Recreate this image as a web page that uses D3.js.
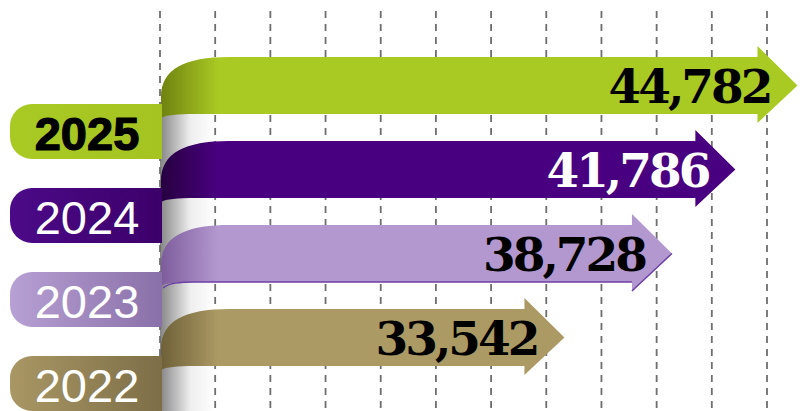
<!DOCTYPE html>
<html>
  <head>
    <meta charset="UTF-8" />
    <title>Ribbon arrows</title>
    <script src="https://cdn.jsdelivr.net/npm/d3@7/dist/d3.min.js"></script>
    <style>
      body { margin: 0; background: #fff; }
      svg { display: block; }
    </style>
  </head>
  <body>
    <div class="chart"></div>
    <script>
      // data
      const years = ["2025", "2024", "2023", "2022"];
      const values = [44782, 41786, 38728, 33542];
      const gridTicks = d3.range(12);

      // colours per row
      const barColors = ["#a9c923", "#490080", "#b398cf", "#ac9a64"];
      const shadeColors = ["#6f8210", "#26003f", "#7d5c9c", "#6e6038"];
      const tabLeft = ["#a9c923", "#4c0a88", "#b7a0d4", "#a99764"];
      const tabRight = ["#a5c422", "#3c006a", "#8a70a8", "#7d6e48"];
      const valueColors = ["#000", "#fff", "#000", "#000"];
      const yearColors = ["#000", "#fff", "#fff", "#fff"];

      let width = 802;
      let height = 411;

      let svg = d3
        .select(".chart")
        .append("svg")
        .attr("width", width)
        .attr("height", height);

      let x = d3.scaleLinear().domain([30000, 45000]).range([491, 802]);
      let y = d3.scaleBand().domain(years).range([57, 393]);
      let gx = d3.scaleLinear().domain([0, 11]).range([160, 767]);

      let barH = 57;
      let left = 161;

      let defs = svg.append("defs");

      function hGrad(id, x1, x2, stops) {
        let g = defs
          .append("linearGradient")
          .attr("id", id)
          .attr("gradientUnits", "userSpaceOnUse")
          .attr("x1", x1)
          .attr("x2", x2)
          .attr("y1", 0)
          .attr("y2", 0);
        stops.forEach((s) => {
          g.append("stop").attr("offset", s[0]).attr("stop-color", s[1]);
        });
      }

      hGrad("curl", 160, 215, [
        [0, "#858585"],
        [0.55, "#eeeeee"],
        [1, "#ffffff"],
      ]);
      years.forEach((yr, i) => {
        hGrad("bar" + i, 161, 218, [
          [0, shadeColors[i]],
          [1, barColors[i]],
        ]);
        hGrad("tab" + i, 10, 162, [
          [0, tabLeft[i]],
          [1, tabRight[i]],
        ]);
      });

      // back side of the ribbon (white curl)
      svg
        .append("g")
        .selectAll("rect")
        .data(years)
        .join("rect")
        .attr("x", 160)
        .attr("y", (d) => y(d) + barH - 3)
        .attr("width", 60)
        .attr("height", 80)
        .attr("fill", "url(#curl)");

      // dashed grid
      svg
        .append("g")
        .selectAll("line")
        .data(gridTicks)
        .join("line")
        .attr("x1", (d) => gx(d))
        .attr("x2", (d) => gx(d))
        .attr("y1", 11)
        .attr("y2", height)
        .attr("stroke", "#6e6e6e")
        .attr("stroke-width", 1.8)
        .attr("stroke-dasharray", "7,6");

      function barPath(top, tip) {
        let bot = top + barH;
        let mid = top + barH / 2;
        let head = tip - 40;
        return (
          `M${left},${bot + 4} L${left},${top + 40} ` +
          `C${left},${top + 12} ${left + 24},${top} ${left + 68},${top} ` +
          `L${head},${top} L${head},${top - 11} L${tip},${mid} ` +
          `L${head},${bot + 9} L${head},${bot} L${left + 34},${bot} ` +
          `C${left + 16},${bot} ${left + 5},${bot + 1} ${left},${bot + 4} Z`
        );
      }

      // ribbon bars with arrow heads
      svg
        .append("g")
        .selectAll("path")
        .data(values)
        .join("path")
        .attr("d", (d, i) => barPath(y(years[i]), x(d)))
        .attr("fill", (d, i) => `url(#bar${i})`);

      // thin darker edge under the lavender ribbon
      let v3 = values[2];
      let t3 = y(years[2]);
      svg
        .append("path")
        .attr(
          "d",
          `M${left + 2},${t3 + barH + 6} C${left + 8},${t3 + barH + 1} ${
            left + 18
          },${t3 + barH} ${left + 34},${t3 + barH} L${x(v3) - 40},${
            t3 + barH
          } M${x(v3) - 40},${t3 + barH + 9} L${x(v3)},${t3 + barH / 2}`
        )
        .attr("fill", "none")
        .attr("stroke", "#6c3fa8")
        .attr("stroke-width", 1.5);

      // year tabs
      let tabs = svg.append("g");
      years.forEach((yr, i) => {
        let t = y(yr) + 47;
        let r = 22;
        tabs
          .append("path")
          .attr(
            "d",
            `M162,${t} L${10 + r},${t} A${r},${r} 0 0 0 10,${t + r} ` +
              `L10,${t + 55 - r} A${r},${r} 0 0 0 ${10 + r},${t + 55} L162,${
                t + 55
              } Z`
          )
          .attr("fill", `url(#tab${i})`);
        tabs
          .append("text")
          .attr("x", 87)
          .attr("y", t + 46)
          .attr("text-anchor", "middle")
          .attr("font-family", "'Liberation Sans', Arial, sans-serif")
          .attr("font-weight", i === 0 ? "bold" : "normal")
          .attr("font-size", 47)
          .attr("stroke", i === 0 ? "#000" : "none")
          .attr("stroke-width", 1.2)
          .attr("fill", yearColors[i])
          .text(yr);
      });

      // value labels
      svg
        .append("g")
        .selectAll("text")
        .data(values)
        .join("text")
        .attr("x", (d) => x(d) - 27)
        .attr("y", (d, i) => y(years[i]) + barH / 2 + 17)
        .attr("text-anchor", "end")
        .attr("font-family", "'DejaVu Serif', serif")
        .attr("font-weight", "bold")
        .attr("font-size", 47)
        .attr("letter-spacing", -3)
        .attr("fill", (d, i) => valueColors[i])
        .text((d) => d3.format(",")(d));
    </script>
  </body>
</html>
